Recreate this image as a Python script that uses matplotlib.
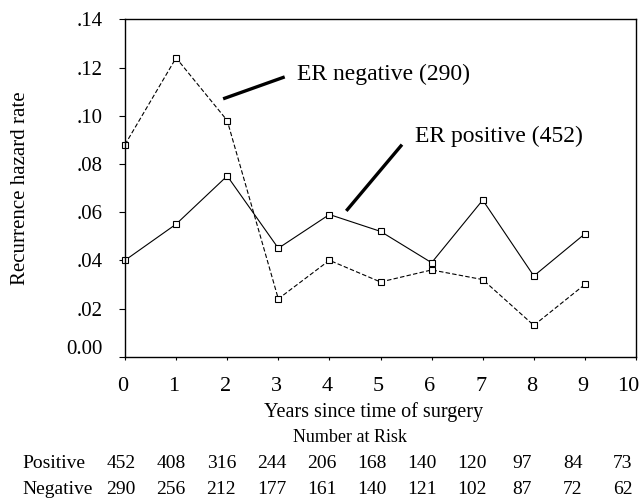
import numpy as np
import matplotlib
matplotlib.use('Agg')
import matplotlib.pyplot as plt
from matplotlib.transforms import blended_transform_factory, ScaledTranslation

plt.rcParams['font.family'] = ['Liberation Serif', 'DejaVu Serif']

# Data
years = [0, 1, 2, 3, 4, 5, 6, 7, 8, 9]
er_negative = [0.088, 0.124, 0.098, 0.024, 0.040, 0.031, 0.036, 0.032, 0.013, 0.030]
er_positive = [0.040, 0.055, 0.075, 0.045, 0.059, 0.052, 0.039, 0.065, 0.0335, 0.051]

xticks = list(range(0, 11))
yticks = [0.0, 0.02, 0.04, 0.06, 0.08, 0.10, 0.12, 0.14]
ytick_labels = ['0.00', '.02', '.04', '.06', '.08', '.10', '.12', '.14']

risk_rows = ['Positive', 'Negative']
risk_positive = [452, 408, 316, 244, 206, 168, 140, 120, 97, 84, 73]
risk_negative = [290, 256, 212, 177, 161, 140, 121, 102, 87, 72, 62]

fig = plt.figure(figsize=(6.42, 5.0), dpi=100)
ax = fig.add_axes([0.1947, 0.2866, 0.796, 0.6748])

ax.plot(years, er_negative, color='black', linestyle=(0, (4, 2)), linewidth=0.8,
        marker='s', markersize=4, markerfacecolor='white', markeredgewidth=0.8,
        clip_on=False)
ax.plot(years, er_positive, color='black', linestyle='-', linewidth=0.8,
        marker='s', markersize=4, markerfacecolor='white', markeredgewidth=0.8,
        clip_on=False)

ax.set_xlim(0, 10)
ax.set_ylim(0, 0.14)
ax.set_xticks(xticks)
ax.set_yticks(yticks)
ax.set_yticklabels(ytick_labels)
ax.tick_params(axis='x', direction='out', length=2.5, width=0.8, labelsize=16, pad=12)
ax.tick_params(axis='y', direction='out', length=4, width=0.8, labelsize=15, pad=12)
for s in ax.spines.values():
    s.set_linewidth(1.0)

# small offsets so the tick labels sit where the original has them
shift = lambda dx, dy: ScaledTranslation(dx / 100, dy / 100, fig.dpi_scale_trans)
lab0 = ax.get_yticklabels()[0]
lab0.set_transform(lab0.get_transform() + shift(0, 10))
for lab in ax.get_xticklabels():
    lab.set_transform(lab.get_transform() + shift(-2, 0))
lab10 = ax.get_xticklabels()[-1]
lab10.set_transform(lab10.get_transform() + shift(-6, 0))

ax.set_ylabel('Recurrence hazard rate', fontsize=15)
ax.yaxis.set_label_coords(-0.186, 0.5)
ax.set_xlabel('Years since time of surgery', fontsize=14.5)
ax.xaxis.set_label_coords(0.487, -0.134)

# annotation leader lines
ax.plot([1.92, 3.125], [0.1070, 0.1161], color='black', linewidth=2.4, solid_capstyle='butt')
ax.text(3.36, 0.1170, 'ER negative (290)', fontsize=17, ha='left', va='center')
ax.plot([4.33, 5.42], [0.0605, 0.0880], color='black', linewidth=2.4, solid_capstyle='butt')
ax.text(5.68, 0.0914, 'ER positive (452)', fontsize=17, ha='left', va='center')

# number at risk table
trans = blended_transform_factory(ax.transData, fig.transFigure)
fig.text(350 / 642, 1 - 437 / 500, 'Number at Risk', fontsize=13, ha='center', va='center')
row_y = [1 - 463 / 500, 1 - 490 / 500]
for name, vals, yy in zip(risk_rows, [risk_positive, risk_negative], row_y):
    fig.text(22 / 642, yy, name, fontsize=14, ha='left', va='center')
    for i, v in enumerate(vals):
        ax.text(i * 0.982 - 0.08, yy, str(v), fontsize=14, ha='center', va='center',
                transform=trans, clip_on=False)

fig.savefig('out.png', dpi=100)
